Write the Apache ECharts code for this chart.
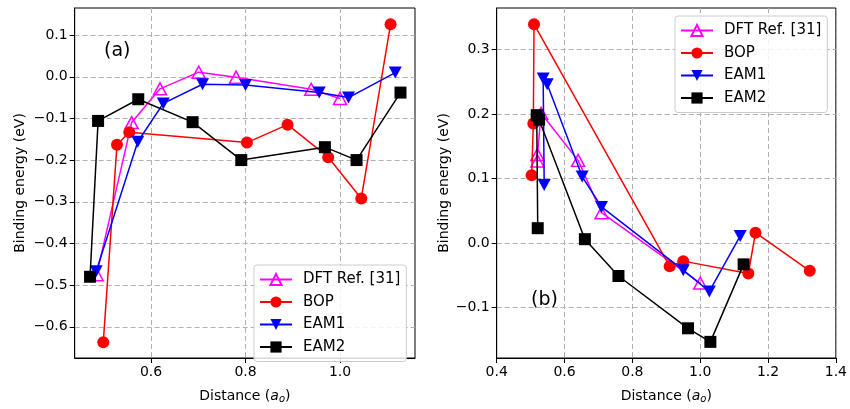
<!DOCTYPE html>
<html><head><meta charset="utf-8">
<script src="https://cdn.jsdelivr.net/npm/echarts@6/dist/echarts.min.js"></script>
<style>html,body{margin:0;padding:0;background:#fff}#c{width:850px;height:409px}</style>
</head><body><div id="c"></div>
<script>
// Panel (a)
const dftA_x = [0.485, 0.559, 0.619, 0.701, 0.780, 0.939, 1.000];
const dftA_y = [-0.475, -0.110, -0.029, 0.011, -0.001, -0.030, -0.052];
const bopA_x = [0.499, 0.528, 0.554, 0.803, 0.889, 0.975, 1.045, 1.107];
const bopA_y = [-0.637, -0.163, -0.133, -0.158, -0.115, -0.193, -0.292, 0.126];
const eam1A_x = [0.484, 0.572, 0.626, 0.709, 0.800, 0.956, 1.018, 1.117];
const eam1A_y = [-0.467, -0.156, -0.064, -0.018, -0.020, -0.038, -0.050, 0.010];
const eam2A_x = [0.471, 0.488, 0.573, 0.688, 0.791, 0.968, 1.035, 1.128];
const eam2A_y = [-0.480, -0.106, -0.054, -0.109, -0.200, -0.169, -0.200, -0.038];
// Panel (b)
const dftB_x = [0.520, 0.520, 0.531, 0.640, 0.709, 1.000];
const dftB_y = [0.127, 0.137, 0.201, 0.128, 0.047, -0.062];
const bopB_x = [0.503, 0.508, 0.510, 0.910, 0.950, 1.142, 1.163, 1.323];
const bopB_y = [0.105, 0.185, 0.339, -0.036, -0.028, -0.047, 0.016, -0.043];
const eam1B_x = [0.540, 0.537, 0.549, 0.652, 0.709, 0.950, 1.027, 1.118];
const eam1B_y = [0.090, 0.255, 0.246, 0.103, 0.056, -0.042, -0.075, 0.011];
const eam2B_x = [0.521, 0.518, 0.525, 0.660, 0.759, 0.964, 1.030, 1.128];
const eam2B_y = [0.023, 0.198, 0.191, 0.006, -0.051, -0.132, -0.153, -0.033];

const seriesNames = ['DFT Ref. [31]', 'BOP', 'EAM1', 'EAM2'];
const xTicksA = [0.6, 0.8, 1.0];
const yTicksA = [-0.6, -0.5, -0.4, -0.3, -0.2, -0.1, 0.0, 0.1];
const xTicksB = [0.4, 0.6, 0.8, 1.0, 1.2, 1.4];
const yTicksB = [-0.1, 0.0, 0.1, 0.2, 0.3];

const zip = (xs, ys) => xs.map((x, i) => [x, ys[i]]);
const FONT = 'DejaVu Sans';
const fmt = v => (Math.abs(v) < 1e-9 ? '0.0' : v.toFixed(1)).replace('-', '\u2212');
const triDown = 'path://M0,0 L10,0 L5,9 Z';
const triUp = 'path://M5,0 L10,9 L0,9 Z';

const styles = [
  {symbol: triUp, symbolSize: [13, 12], color: '#ff00ff', hollow: true},
  {symbol: 'circle', symbolSize: 12, color: '#ff0000'},
  {symbol: triDown, symbolSize: [13, 12], color: '#0000ff'},
  {symbol: 'rect', symbolSize: 12, color: '#000000'}
];

function mkSeries(idx, data, axisIdx) {
  const s = styles[idx];
  return {
    type: 'line', name: seriesNames[idx], xAxisIndex: axisIdx, yAxisIndex: axisIdx,
    data: data, symbol: s.symbol, symbolSize: s.symbolSize, showAllSymbol: true,
    lineStyle: {color: s.color, width: 1.5},
    itemStyle: s.hollow ? {color: 'rgba(255,255,255,0)', borderColor: s.color, borderWidth: 1.5}
                        : {color: s.color, borderWidth: 0},
    emphasis: {disabled: true}, animation: false, z: 2 + idx
  };
}

function xAxisCfg(gridIndex, min, max, ticks) {
  return {
    type: 'value', gridIndex, min, max,
    axisLine: {show: true, onZero: false, lineStyle: {color: '#000', width: 1}},
    axisTick: {show: true, length: 5, inside: false, customValues: ticks, lineStyle: {color: '#000'}},
    axisLabel: {customValues: ticks, formatter: fmt, color: '#000', fontFamily: FONT, fontSize: 14, margin: 7},
    splitLine: {show: true, lineStyle: {color: '#b0b0b0', type: [5, 3], width: 1}},
    name: 'Distance ({i|a}{s|o})', nameLocation: 'middle', nameGap: 30,
    nameTextStyle: {color: '#000', fontFamily: FONT, fontSize: 14,
      rich: {i: {fontStyle: 'italic', fontFamily: FONT, fontSize: 14, color: '#000'},
             s: {fontStyle: 'italic', fontFamily: FONT, fontSize: 10, color: '#000', padding: [6, 0, 0, 0]}}}
  };
}
function yAxisCfg(gridIndex, min, max, ticks, gap) {
  return {
    type: 'value', gridIndex, min, max,
    axisLine: {show: true, onZero: false, lineStyle: {color: '#000', width: 1}},
    axisTick: {show: true, length: 5, inside: false, customValues: ticks, lineStyle: {color: '#000'}},
    axisLabel: {customValues: ticks, formatter: fmt, color: '#000', fontFamily: FONT, fontSize: 14, margin: 7},
    splitLine: {show: true, lineStyle: {color: '#b0b0b0', type: [5, 3], width: 1}},
    name: 'Binding energy (eV)', nameLocation: 'middle', nameGap: gap, nameRotate: 90,
    nameTextStyle: {color: '#000', fontFamily: FONT, fontSize: 14}
  };
}

function legendCfg(left, top) {
  return {
    data: seriesNames, orient: 'vertical', left, top,
    itemWidth: 32, itemHeight: 14, itemGap: 7.5,
    padding: [7, 6, 7, 5],
    backgroundColor: 'rgba(255,255,255,0.85)', borderColor: '#cccccc', borderWidth: 1, borderRadius: 3,
    textStyle: {fontFamily: FONT, fontSize: 15, color: '#000', padding: [0, 0, 0, 6]},
    selectedMode: false
  };
}

const chart = echarts.init(document.getElementById('c'), null, {renderer: 'canvas'});
chart.setOption({
  backgroundColor: '#fff',
  animation: false,
  grid: [
    {left: 74.7, right: 435, top: 8, bottom: 44, show: true, borderColor: '#000', borderWidth: 1, backgroundColor: 'transparent'},
    {left: 496.7, right: 12.7, top: 8, bottom: 44.7, show: true, borderColor: '#000', borderWidth: 1, backgroundColor: 'transparent'}
  ],
  xAxis: [xAxisCfg(0, 0.4385, 1.1587, xTicksA), xAxisCfg(1, 0.4, 1.4, xTicksB)],
  yAxis: [yAxisCfg(0, -0.675, 0.165, yTicksA, 47), yAxisCfg(1, -0.178, 0.364, yTicksB, 40)],
  legend: [legendCfg(254, 265), legendCfg(675, 16)],
  graphic: [
    {type: 'text', left: 104, top: 42, style: {text: '(a)', font: '19px "DejaVu Sans"', fill: '#000'}},
    {type: 'text', left: 531, top: 291, style: {text: '(b)', font: '19px "DejaVu Sans"', fill: '#000'}}
  ],
  series: [
    mkSeries(0, zip(dftA_x, dftA_y), 0),
    mkSeries(1, zip(bopA_x, bopA_y), 0),
    mkSeries(2, zip(eam1A_x, eam1A_y), 0),
    mkSeries(3, zip(eam2A_x, eam2A_y), 0),
    mkSeries(0, zip(dftB_x, dftB_y), 1),
    mkSeries(1, zip(bopB_x, bopB_y), 1),
    mkSeries(2, zip(eam1B_x, eam1B_y), 1),
    mkSeries(3, zip(eam2B_x, eam2B_y), 1)
  ]
});
</script></body></html>
